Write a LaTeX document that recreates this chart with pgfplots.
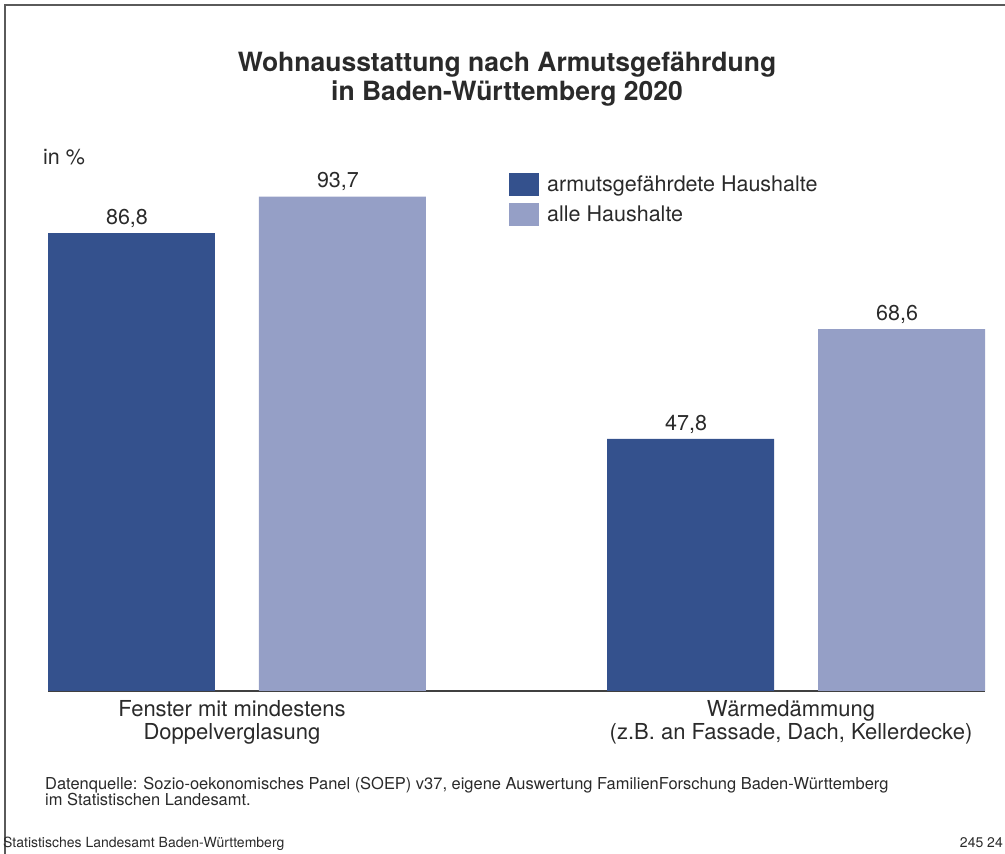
\documentclass[border=0pt]{standalone}
\usepackage{pgfplots}
\pgfplotsset{compat=1.18}
\usepackage{fontspec}
\setmainfont{TeX Gyre Heros}
\definecolor{dunkel}{HTML}{34518D}
\definecolor{hell}{HTML}{959FC6}
\definecolor{textgrau}{HTML}{2A2A2A}
\definecolor{rahmen}{HTML}{5A5A5A}

% Werte in %
\pgfplotstableread{
x   y
-0.1887 86.8
0.8113  47.8
}\armut
\pgfplotstableread{
x   y
0.1887  93.7
1.1887  68.6
}\alle

% Legendenquadrat plus 8pt Abstand zum Text
\pgfplotsset{legquadrat/.style={legend image code/.code={\fill[##1] (0pt,-11.5pt) rectangle (30pt,11.5pt); \path (38pt,0pt);}}}

\begin{document}
\begin{tikzpicture}
  \useasboundingbox (0pt,0pt) rectangle (1005pt,854pt);
  \draw[rahmen, line width=1.5pt] (5pt,0pt) -- (5pt,849pt) -- (1005pt,849pt);

  \node[textgrau, align=center, font=\bfseries\fontsize{26.5}{29.5}\selectfont, anchor=base]
    at (507pt,753pt) {Wohnausstattung nach Armutsgefährdung\\in Baden-Württemberg 2020};
  \node[textgrau, font=\fontsize{21.5}{24}\selectfont, anchor=base west, inner sep=0pt]
    at (43pt,689pt) {in \%};

  \begin{axis}[
    at={(48pt,163pt)}, anchor=south west,
    scale only axis,
    width=937pt, height=527.6pt,
    xmin=-0.338, xmax=1.338,
    ymin=0, ymax=100,
    axis y line=none,
    axis x line*=bottom,
    x axis line style={draw=black!75, line width=2pt, -},
    xtick={0,1},
    xticklabels={{Fenster mit mindestens\\Doppelverglasung},{Wärmedämmung\\(z.B. an Fassade, Dach, Kellerdecke)}},
    xticklabel style={align=center, text=textgrau, font=\fontsize{22}{23}\selectfont, yshift=-6pt, xshift=-5pt},
    major tick length=0pt,
    ybar, bar width=0.2987, bar shift=0pt,
    nodes near coords={\pgfmathprintnumber[fixed, fixed zerofill, precision=1, use comma]{\pgfplotspointmeta}},
    nodes near coords style={text=textgrau, font=\fontsize{21.5}{24}\selectfont, /pgf/number format/assume math mode=true, yshift=2pt, xshift=-4.5pt},
    legend style={draw=none, fill=none, at={(0.492,0.983)}, anchor=north west,
      font=\fontsize{21.5}{24}\selectfont, text=textgrau, row sep=7pt, inner sep=0pt,
      nodes={inner sep=0pt}},
    legend cell align=left,
  ]
  \addplot[draw=none, fill=dunkel, legquadrat] table[x=x, y=y] {\armut};
  \addplot[draw=none, fill=hell, legquadrat] table[x=x, y=y] {\alle};
  \legend{armutsgefährdete Haushalte, alle Haushalte}
  \end{axis}

  \node[textgrau, align=left, font=\fontsize{16.45}{14}\selectfont, anchor=base west, inner sep=0pt]
    at (45pt,48pt) {Datenquelle: Sozio-oekonomisches Panel (SOEP) v37, eigene Auswertung FamilienForschung Baden-Württemberg\\im Statistischen Landesamt.};
  \node[textgrau, font=\fontsize{14}{16}\selectfont, anchor=base west, inner sep=0pt]
    at (3pt,6pt) {Statistisches Landesamt Baden-Württemberg};
  \node[textgrau, font=\fontsize{14}{16}\selectfont, anchor=base east, inner sep=0pt]
    at (1003pt,6pt) {245 24};
\end{tikzpicture}
\end{document}
